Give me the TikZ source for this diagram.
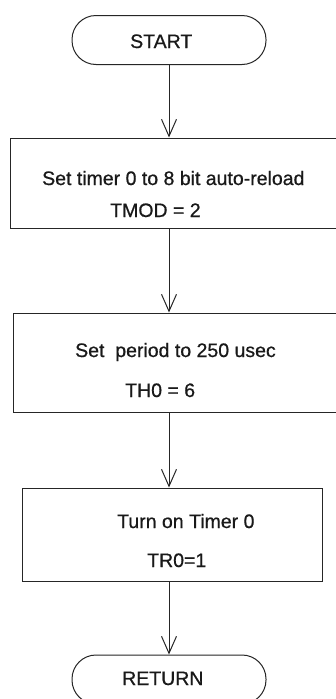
\documentclass[tikz,border=0pt]{standalone}
\usepackage{fontspec}
\setmainfont{Liberation Sans}
\newfontfamily\lblfont{Liberation Sans}[FakeBold=0.7]
\usetikzlibrary{arrows.meta}
\begin{document}
\begin{tikzpicture}[x=1pt,y=-1pt,
  line/.style={draw=black!85, line width=1pt},
  term/.style={line, rounded corners=24pt, minimum width=194pt, minimum height=49pt, inner sep=0pt, fill=white},
  procbox/.style={line, inner sep=0pt},
  lbl/.style={anchor=base west, inner sep=0pt, font=\lblfont\fontsize{19.5}{23}\selectfont, text=black!90},
  flow/.style={line, -{Straight Barb[length=17pt,width=15pt,line width=1pt]}}]
\useasboundingbox (0,0) rectangle (336,699);
\clip (0,0) rectangle (336,699);
\fill[white] (0,0) rectangle (336,699);
% terminators
\node[term] (start) at (169,40) {};
\node[lbl] (tstart) at (130,48) {START};
\node[term] (ret) at (169,679.5) {};
\node[lbl] (tret) at (122,685) {RETURN};
% process boxes
\node[procbox, minimum width=335pt, minimum height=90pt] (b1) at (177.5,183) {};
\node[lbl] (t1a) at (42,185) {Set timer 0 to 8 bit auto-reload};
\node[lbl] (t1b) at (110,217) {TMOD = 2};
\node[procbox, minimum width=332pt, minimum height=99pt] (b2) at (179,362.5) {};
\node[lbl] (t2a) at (75,357) {Set\ \ period to 250 usec};
\node[lbl] (t2b) at (125,397) {TH0 = 6};
\node[procbox, minimum width=300pt, minimum height=93pt] (b3) at (172,534.5) {};
\node[lbl] (t3a) at (117,528) {Turn on Timer 0};
\node[lbl] (t3b) at (147,567) {TR0=1};
% connectors
\draw[flow] (start.south) -- (start.south |- b1.north);
\draw[flow] (b1.south -| start) -- (b2.north -| start);
\draw[flow] (b2.south -| start) -- (b3.north -| start);
\draw[flow] (b3.south -| start) -- (ret.north);
\end{tikzpicture}
\end{document}
